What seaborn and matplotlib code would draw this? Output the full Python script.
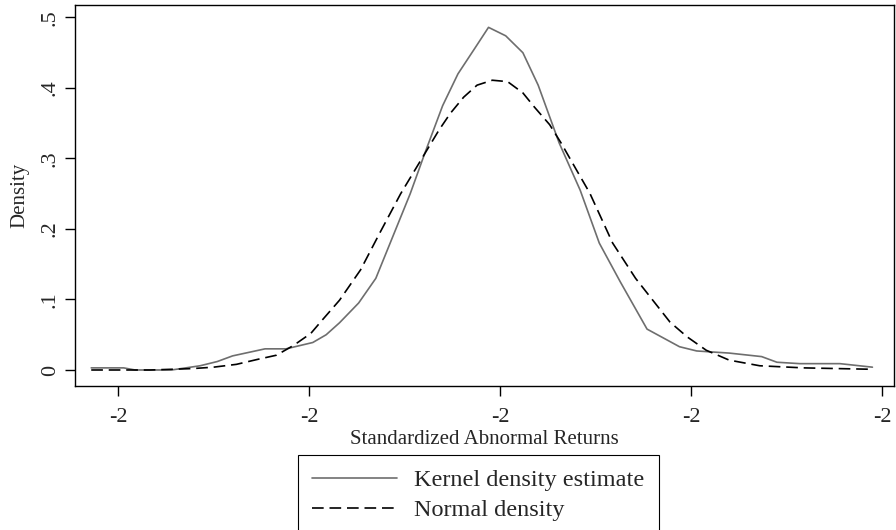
import matplotlib
matplotlib.use('Agg')
import matplotlib.pyplot as plt
import seaborn as sns
import pandas as pd

# kernel density estimate
kde_x = [-2.14, -1.97, -1.91, -1.72, -1.57, -1.48, -1.40, -1.23, -1.12, -0.98,
         -0.91, -0.84, -0.74, -0.65, -0.56, -0.47, -0.39, -0.30, -0.22, -0.13,
         -0.06, 0.03, 0.12, 0.20, 0.31, 0.42, 0.52, 0.63, 0.77, 0.94,
         1.03, 1.20, 1.37, 1.45, 1.57, 1.78, 1.95]
kde_y = [0.003, 0.003, 0.000, 0.000, 0.006, 0.012, 0.020, 0.030, 0.030, 0.039,
         0.050, 0.067, 0.095, 0.130, 0.190, 0.250, 0.310, 0.375, 0.420, 0.457,
         0.486, 0.474, 0.450, 0.404, 0.322, 0.255, 0.180, 0.125, 0.058, 0.033,
         0.027, 0.024, 0.019, 0.011, 0.009, 0.009, 0.004]

# normal density
norm_x = [-2.14, -1.83, -1.61, -1.50, -1.38, -1.27, -1.17, -1.08, -0.99, -0.93,
          -0.84, -0.73, -0.63, -0.52, -0.42, -0.32, -0.26, -0.19, -0.12, -0.04,
          0.04, 0.12, 0.18, 0.26, 0.32, 0.40, 0.47, 0.59, 0.71, 0.80,
          0.89, 0.98, 1.08, 1.20, 1.36, 1.59, 1.95]
norm_y = [0.000, 0.000, 0.002, 0.004, 0.008, 0.015, 0.021, 0.035, 0.052, 0.071,
          0.099, 0.142, 0.194, 0.250, 0.295, 0.340, 0.364, 0.387, 0.404, 0.411,
          0.409, 0.393, 0.373, 0.348, 0.322, 0.284, 0.251, 0.180, 0.130, 0.099,
          0.068, 0.047, 0.028, 0.014, 0.006, 0.003, 0.001]

x_ticks = [-2, -1, 0, 1, 2]
x_tick_labels = ['-2', '-2', '-2', '-2', '-2']
y_ticks = [0, 0.1, 0.2, 0.3, 0.4, 0.5]
y_tick_labels = ['0', '.1', '.2', '.3', '.4', '.5']

sns.set_style('ticks')
plt.rcParams['font.family'] = ['Liberation Serif', 'DejaVu Serif']

fig = plt.figure(figsize=(8.96, 5.30), dpi=100)
ax = fig.add_axes([75 / 896, 1 - 386 / 530, (894 - 75) / 896, (386 - 5) / 530])

kde_df = pd.DataFrame({'x': kde_x, 'y': kde_y})
norm_df = pd.DataFrame({'x': norm_x, 'y': norm_y})
sns.lineplot(data=kde_df, x='x', y='y', ax=ax, sort=False, color='#6e6e6e',
             linewidth=1.2, label='Kernel density estimate')
sns.lineplot(data=norm_df, x='x', y='y', ax=ax, sort=False, color='black',
             linewidth=1.2, dashes=False, label='Normal density')
ax.lines[1].set_dashes((7, 3.5))

ax.set_xlim(-2.225, 2.063)
ax.set_ylim(-0.0227, 0.5177)
ax.set_xticks(x_ticks)
ax.set_xticklabels(x_tick_labels, fontsize=16)
ax.set_yticks(y_ticks)
ax.set_yticklabels(y_tick_labels, fontsize=16, rotation=90, va='center')
ax.tick_params(axis='both', direction='out', length=7, width=1, color='black')
ax.tick_params(axis='x', pad=9)
ax.tick_params(axis='y', pad=4)
for s in ax.spines.values():
    s.set_visible(True)
    s.set_color('black')
    s.set_linewidth(1.0)

ax.set_xlabel('Standardized Abnormal Returns', fontsize=15, labelpad=2)
ax.set_ylabel('Density', fontsize=15, labelpad=8)

handles, labels = ax.get_legend_handles_labels()
ax.get_legend().remove()
leg = fig.legend(handles, labels, loc='upper left',
                 bbox_to_anchor=(298 / 896, 1 - 455 / 530),
                 fontsize=17.5, frameon=True, fancybox=False, framealpha=1,
                 handlelength=3.5, handletextpad=0.7, borderpad=0.58,
                 labelspacing=0.33, borderaxespad=0)
leg.get_frame().set_edgecolor('black')
leg.get_frame().set_linewidth(0.8)

fig.savefig('out.png', dpi=100)
